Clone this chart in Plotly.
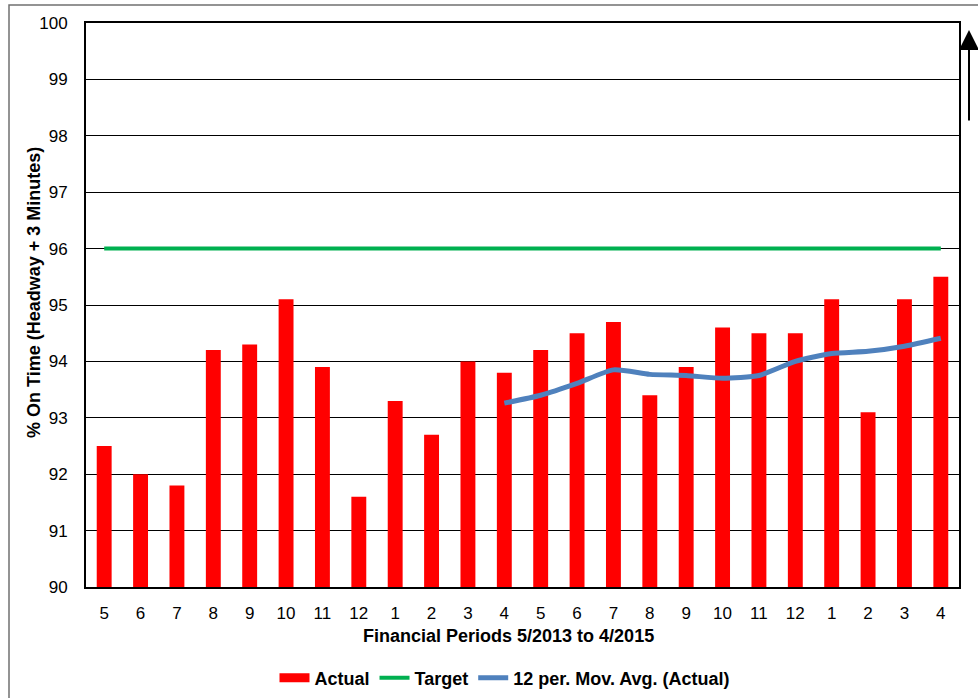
import plotly.graph_objects as go

periods = ["5", "6", "7", "8", "9", "10", "11", "12", "1", "2", "3", "4",
           "5", "6", "7", "8", "9", "10", "11", "12", "1", "2", "3", "4"]
actual = [92.5, 92.0, 91.8, 94.2, 94.3, 95.1, 93.9, 91.6, 93.3, 92.7, 94.0, 93.8,
          94.2, 94.5, 94.7, 93.4, 93.9, 94.6, 94.5, 94.5, 95.1, 93.1, 95.1, 95.5]
target = [96.0] * 24
mov_avg = [None] * 11 + [93.26, 93.40, 93.61, 93.85, 93.77, 93.75, 93.70, 93.75,
                         94.00, 94.14, 94.18, 94.27, 94.41]
y_ticks = list(range(90, 101))

x = list(range(len(periods)))

W, H = 978, 698
L, R, T, B = 86, 959, 23, 587
FONT = "Liberation Sans, Arial, sans-serif"

def px(xp):
    return (xp - L) / (R - L)

def py(yp):
    return (B - yp) / (B - T)

fig = go.Figure()
fig.add_trace(go.Bar(x=x, y=[v - 90 for v in actual], base=90, name="Actual",
                     marker=dict(color="#FF0000", line=dict(width=0)), width=0.41,
                     showlegend=False))
# legend entry for the bars (drawn as a thick bar-like swatch)
fig.add_trace(go.Scatter(x=[None], y=[None], name="Actual", mode="lines",
                         line=dict(color="#FF0000", width=9)))
fig.add_trace(go.Scatter(x=x, y=target, name="Target",
                         mode="lines", line=dict(color="#00B050", width=4)))
fig.add_trace(go.Scatter(x=x, y=mov_avg, name="12 per. Mov. Avg. (Actual)", mode="lines",
                         line=dict(color="#4F81BD", width=5, shape="spline", smoothing=0.6)))

fig.update_layout(
    width=W, height=H,
    margin=dict(l=L, r=W - R, t=T, b=H - B, autoexpand=False),
    plot_bgcolor="white", paper_bgcolor="white",
    font=dict(family=FONT, color="black", size=17),
    showlegend=True,
    legend=dict(orientation="h", x=px(505), xanchor="center", y=py(678), yanchor="middle",
                font=dict(size=18, family=FONT, weight="bold"),
                traceorder="normal", itemwidth=30),
    xaxis=dict(range=[-0.5, 23.5], tickmode="array", tickvals=x, ticktext=periods,
               showgrid=False, showline=True, linecolor="black", linewidth=2, mirror=True,
               ticks="", tickfont=dict(size=17), ticklabelstandoff=10),
    yaxis=dict(range=[90, 100], tickmode="array", tickvals=y_ticks,
               showgrid=True, gridcolor="black", gridwidth=1,
               showline=True, linecolor="black", linewidth=2, mirror=True,
               ticks="", tickfont=dict(size=17), zeroline=False, ticklabelstandoff=13),
    shapes=[dict(type="rect", xref="paper", yref="paper",
                 x0=px(9), y0=py(760), x1=px(1000), y1=py(5),
                 line=dict(color="#707070", width=1.5), fillcolor="rgba(0,0,0,0)", layer="below")],
    annotations=[
        dict(xref="paper", yref="paper", x=px(969), y=py(30),
             ax=0, ay=92, axref="pixel", ayref="pixel",
             showarrow=True, arrowhead=2, arrowsize=2, arrowwidth=2,
             arrowcolor="black", text=""),
        dict(xref="paper", yref="paper", x=px(508), y=py(636), xanchor="center", yanchor="middle",
             text="<b>Financial Periods 5/2013 to 4/2015</b>", showarrow=False,
             font=dict(size=18, family=FONT, color="black")),
        dict(xref="paper", yref="paper", x=px(34), y=py(293), xanchor="center", yanchor="middle",
             text="<b>% On Time (Headway + 3 Minutes)</b>", showarrow=False, textangle=-90,
             font=dict(size=18, family=FONT, color="black")),
    ],
)

fig.write_html("out.html", post_script="document.body.style.margin='0';",
               config={"displayModeBar": False})
